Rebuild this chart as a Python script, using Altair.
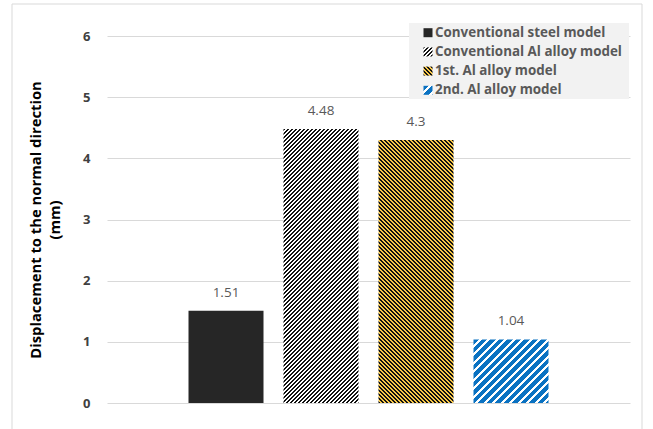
import altair as alt
import pandas as pd

# ---- data ----
names = ["Conventional steel model", "Conventional Al alloy model",
         "1st. Al alloy model", "2nd. Al alloy model"]
values = [1.51, 4.48, 4.3, 1.04]
labels = ["1.51", "4.48", "4.3", "1.04"]
y_ticks = [0, 1, 2, 3, 4, 5, 6]

# ---- layout / style ----
W, H = 523, 367
Y_MAX = 6
STEP = W / (4 - 0.2105 + 2 * 0.858)
BAR_W = STEP * (1 - 0.2105)

FONT = "Open Sans"

# (base colour, stripe colour, horizontal period px, stripe fraction, direction +1 '/' -1 '\')
styles = [
    None,
    ("#ffffff", "#111111", 4.0, 0.5, 1),
    ("#f8c849", "#111111", 4.0, 0.48, -1),
    ("#ffffff", "#0a72c2", 8.5, 0.62, 1),
]
solid_color = "#262626"


def stripes(w, h, style):
    bg, fg, period, frac, s = style
    L = w + h
    k = (w + h) * w / (w * w + h * h)
    stops = []
    pos = 0.0
    while pos < L:
        a = pos / L
        b = min((pos + frac * period) / L, 1.0)
        c = min((pos + period) / L, 1.0)
        stops += [alt.GradientStop(offset=a, color=fg), alt.GradientStop(offset=b, color=fg),
                  alt.GradientStop(offset=b, color=bg), alt.GradientStop(offset=c, color=bg)]
        pos += period
    if s > 0:
        x1, y1, x2, y2 = 0, 0, k, k * h / w
    else:
        x1, y1, x2, y2 = 0, 1, k, 1 - k * h / w
    return alt.LinearGradient(gradient="linear", stops=stops, x1=x1, y1=y1, x2=x2, y2=y2)


df = pd.DataFrame({"name": names, "value": values, "label": labels})
base = alt.Chart(df)

x_enc = alt.X("name:N", sort=names,
              scale=alt.Scale(paddingInner=0.2105, paddingOuter=0.858), axis=None)
y_enc = alt.Y("value:Q", scale=alt.Scale(domain=[0, Y_MAX]),
              axis=alt.Axis(values=y_ticks, grid=True, gridColor="#d9d9d9", domain=False,
                            ticks=False, labelFont=FONT, labelFontWeight="bold",
                            labelFontSize=13, labelColor="#404040", labelPadding=17,
                            title=["Displacement to the normal direction", "(mm)"],
                            titleFont=FONT, titleFontWeight="bold", titleFontSize=14.8,
                            titleColor="#000000", titleX=-64, titleY=H / 2,
                            titleLineHeight=19, titleBaseline="bottom"))

layers = []
# outer chart border
layers.append(base.transform_filter(alt.datum.name == names[0]).mark_rect(
    fill="transparent", stroke="#d9d9d9", strokeWidth=1).encode(
    x=alt.value(-95), x2=alt.value(535), y=alt.value(-32), y2=alt.value(420)))

for i, nm in enumerate(names):
    if styles[i] is None:
        fill = solid_color
    else:
        fill = stripes(BAR_W, values[i] / Y_MAX * H, styles[i])
    layers.append(base.transform_filter(alt.datum.name == nm).mark_bar(fill=fill).encode(
        x=x_enc, y=y_enc))

layers.append(base.mark_text(font=FONT, fontSize=13.5, color="#595959", baseline="middle",
                             dy=-18).encode(x=x_enc, y=y_enc, text="label:N"))

# legend
LX0, LX1, LY0, LY1 = 302, 522, -13, 63
layers.append(base.transform_filter(alt.datum.name == names[0]).mark_rect(
    fill="#f2f2f2").encode(x=alt.value(LX0), x2=alt.value(LX1),
                           y=alt.value(LY0), y2=alt.value(LY1)))
ROW0, ROW = -3.3, 19.2
ICON = 9
for i, nm in enumerate(names):
    cy = ROW0 + i * ROW
    if styles[i] is None:
        fill = solid_color
    else:
        fill = stripes(ICON, ICON, styles[i])
    layers.append(base.transform_filter(alt.datum.name == nm).mark_rect(fill=fill).encode(
        x=alt.value(316.5), x2=alt.value(316.5 + ICON),
        y=alt.value(cy - ICON / 2), y2=alt.value(cy + ICON / 2)))
    layers.append(base.transform_filter(alt.datum.name == nm).mark_text(
        font=FONT, fontSize=13.4, fontWeight="bold", color="#595959", align="left",
        baseline="middle").encode(x=alt.value(328), y=alt.value(cy), text="name:N"))

chart = alt.layer(*layers).properties(
    width=W, height=H,
    autosize=alt.AutoSizeParams(type="none"),
    padding={"left": 107, "top": 36, "right": 23, "bottom": 26},
    background="white",
).configure_view(stroke=None)

chart.save("out.html", embed_options={"renderer": "svg", "actions": False})
